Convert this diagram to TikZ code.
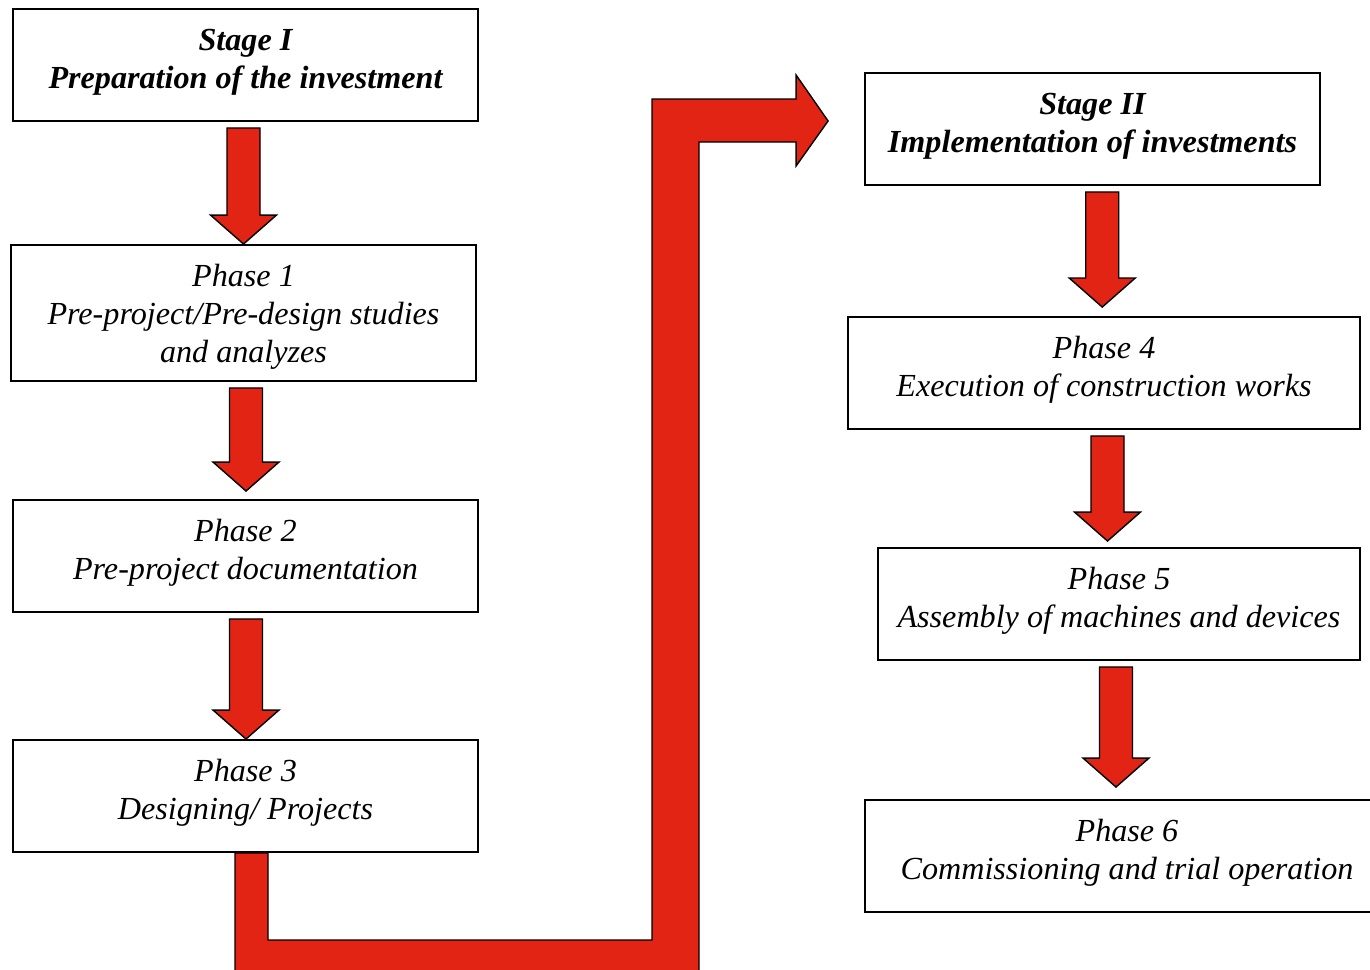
\documentclass[tikz,border=0pt]{standalone}
\usepackage{fontspec}
\setmainfont{Liberation Serif}
\usetikzlibrary{calc}
\definecolor{arrowred}{RGB}{226,36,20}

\tikzset{
    stagebox/.style={rectangle, draw, line width=1.1pt, align=center, inner sep=0pt,
        text height=34.3pt, text depth=7.2pt,
        font=\bfseries\itshape\fontsize{18.3}{21.8}\selectfont},
    phasebox/.style={rectangle, draw, line width=1.1pt, align=center, inner sep=0pt,
        text height=34.3pt, text depth=7.2pt,
        font=\itshape\fontsize{18.3}{21.8}\selectfont},
    redarrow/.style={draw=black, line width=0.8pt, fill=arrowred, line join=miter},
}

% block arrow pointing down from one box to the next: #3 = x shift, #4 = gap above the tip
\newcommand{\downblock}[4]{
    \coordinate (mid) at ($(#1.south)!0.5!(#2.north)+(#3,0)$);
    \coordinate (arrtop) at ($(mid |- #1.south)+(0,6)$);
    \coordinate (arrtip) at ($(mid |- #2.north)+(0,-#4)$);
    \draw[redarrow] ($(arrtop)+(-16.5,0)$) -- ($(arrtop)+(16.5,0)$) -- ($(arrtip)+(16.5,-29)$)
        -- ($(arrtip)+(33,-29)$) -- (arrtip) -- ($(arrtip)+(-33,-29)$) -- ($(arrtip)+(-16.5,-29)$) -- cycle;
}

\begin{document}
\begin{tikzpicture}[x=0.02cm, y=-0.02cm]

    \useasboundingbox (0,0) rectangle (1370,970);
    \clip (0,0) rectangle (1370,970);

    % Stage I %
    \node[stagebox, minimum width=9.3cm, minimum height=2.24cm] (st1) at (245.5,65) {Stage I\\Preparation of the investment};
    \node[phasebox, minimum width=9.3cm, minimum height=2.72cm, text height=60.7pt, text depth=4pt] (ph1) at (243.5,313) {Phase 1\\Pre-project/Pre-design studies\\and analyzes};
    \node[phasebox, minimum width=9.3cm, minimum height=2.24cm] (ph2) at (245.5,556) {Phase 2\\Pre-project documentation};
    \node[phasebox, minimum width=9.3cm, minimum height=2.24cm] (ph3) at (245.5,796) {Phase 3\\Designing/ Projects};

    % Stage II %
    \node[stagebox, minimum width=9.1cm, minimum height=2.24cm] (st2) at (1092.5,129) {Stage II\\Implementation of investments};
    \node[phasebox, minimum width=10.24cm, minimum height=2.24cm] (ph4) at (1104,373) {Phase 4\\Execution of construction works};
    \node[phasebox, minimum width=9.64cm, minimum height=2.24cm] (ph5) at (1119,604) {Phase 5\\Assembly of machines and devices};
    \node[phasebox, minimum width=10.48cm, minimum height=2.24cm] (ph6) at (1127,856) {Phase 6\\Commissioning and trial operation};

    \downblock{st1}{ph1}{-1}{0}
    \downblock{ph1}{ph2}{1.5}{8}
    \downblock{ph2}{ph3}{0.5}{0}
    \downblock{st2}{ph4}{4}{9}
    \downblock{ph4}{ph5}{-4}{6}
    \downblock{ph5}{ph6}{-7}{12}

    % From stage I to stage II %
    \draw[redarrow] ($(ph3.south)+(-10.5,0)$) -- ++(33,0) |- (652,940) |- ($(st2.west)+(-68,-30)$)
        -- ($(st2.west)+(-68,-54)$) -- ($(st2.west)+(-36,-8)$) -- ($(st2.west)+(-68,37)$)
        -- ($(st2.west)+(-68,13)$) -| (699,990) -- (235,990) -- cycle;

\end{tikzpicture}
\end{document}
